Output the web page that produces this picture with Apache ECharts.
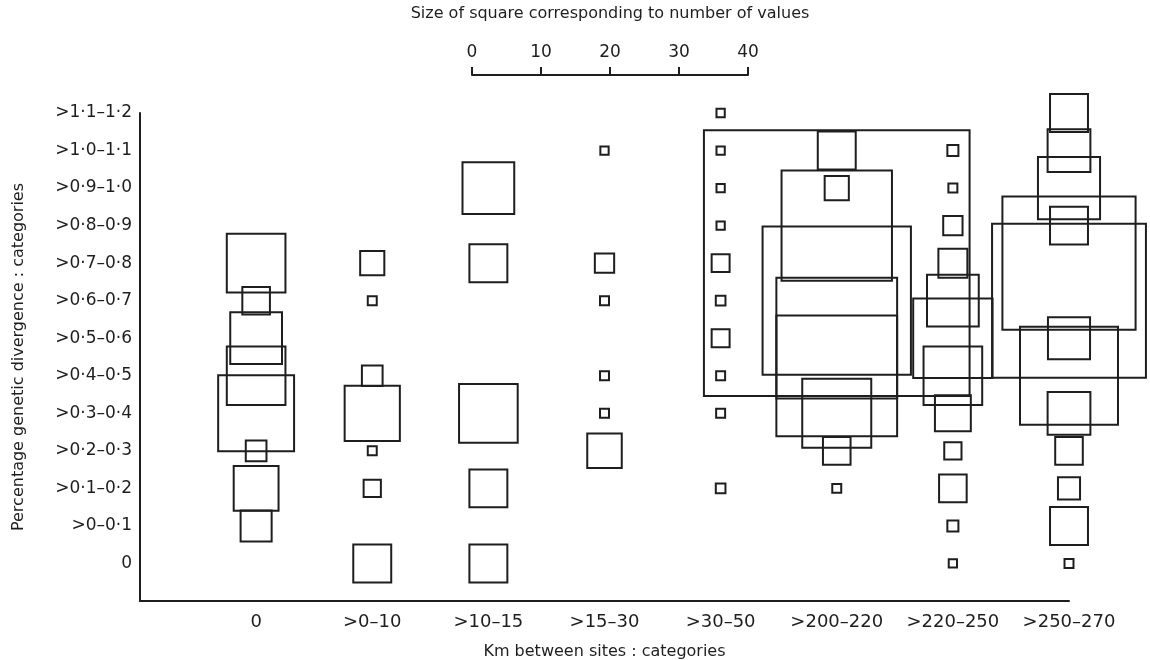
<!DOCTYPE html>
<html>
<head>
<meta charset="utf-8">
<script src="https://cdn.jsdelivr.net/npm/echarts@6/dist/echarts.min.js"></script>
<style>
html, body { margin: 0; padding: 0; background: #fff; }
#chart { width: 1150px; height: 660px; }
</style>
</head>
<body>
<div id="chart"></div>
<script>
// distance classes (x) and divergence classes (y, bottom to top)
var distCats = ['0', '>0–10', '>10–15', '>15–30', '>30–50', '>200–220', '>220–250', '>250–270'];
var divCats = ['0', '>0–0·1', '>0·1–0·2', '>0·2–0·3', '>0·3–0·4', '>0·4–0·5', '>0·5–0·6',
               '>0·6–0·7', '>0·7–0·8', '>0·8–0·9', '>0·9–1·0', '>1·0–1·1', '>1·1–1·2'];
var scaleMax = 40;

// number of values in each divergence class, one array per distance class
var km0      = [0, 4.5, 6.5, 3, 11, 8.5, 7.5, 4, 8.5, 0, 0, 0, 0];
var km0_10   = [5.5, 0, 2.5, 1.3, 8, 3, 0, 1.3, 3.5, 0, 0, 0, 0];
var km10_15  = [5.5, 0, 5.5, 0, 8.5, 0, 0, 0, 5.5, 0, 7.5, 0, 0];
var km15_30  = [0, 0, 0, 5, 1.3, 1.3, 0, 1.3, 2.8, 0, 0, 1.2, 0];
var km30_50  = [0, 0, 1.4, 0, 1.3, 1.3, 2.6, 1.4, 2.6, 1.2, 1.2, 1.2, 1.2];
var km200_220 = [0, 0, 1.3, 4, 10, 17.5, 17.5, 21.5, 38.5, 16, 3.5, 5.5, 0];
var km220_250 = [1.2, 1.6, 4, 2.5, 5.2, 8.5, 11.5, 7.5, 4.2, 2.8, 1.3, 1.6, 0];
var km250_270 = [1.3, 5.5, 3.2, 4, 6.2, 14.2, 6.1, 22.3, 19.3, 5.5, 9, 6.2, 5.5];
var counts = [km0, km0_10, km10_15, km15_30, km30_50, km200_220, km220_250, km250_270];

var ink = '#1e1e1e';
var font = 'DejaVu Sans';
var scaleWidth = 276;               // px length of the 0-40 key
var unit = scaleWidth / scaleMax;   // px of square side per value

var points = [];
counts.forEach(function (col, c) {
    col.forEach(function (v, r) {
        if (v > 0) points.push([distCats[c], divCats[r], v]);
    });
});

var myChart = echarts.init(document.getElementById('chart'));
var option = {
    backgroundColor: '#fff',
    animation: false,
    textStyle: { fontFamily: font, color: ink },
    grid: [
        { left: 140, right: 81, top: 113, bottom: 59, outerBoundsMode: 'none' },
        { left: 472, width: scaleWidth, top: 74, height: 1, outerBoundsMode: 'none' }
    ],
    xAxis: [
        {
            gridIndex: 0,
            type: 'category',
            data: [''].concat(distCats),
            boundaryGap: false,
            name: 'Km between sites : categories',
            nameLocation: 'middle',
            nameGap: 43,
            nameTextStyle: { fontSize: 16, color: ink },
            axisLine: { lineStyle: { color: ink, width: 2 } },
            axisTick: {
                inside: true, length: 9,
                interval: function (i) { return i > 0; },
                lineStyle: { color: ink, width: 2 }
            },
            axisLabel: { interval: 0, margin: 12, fontSize: 18, color: ink },
            splitLine: { show: false }
        },
        {
            gridIndex: 1,
            type: 'value',
            position: 'top',
            min: 0,
            max: scaleMax,
            interval: 10,
            name: 'Size of square corresponding to number of values',
            nameLocation: 'middle',
            nameGap: 52,
            nameTextStyle: { fontSize: 16, color: ink },
            axisLine: { lineStyle: { color: ink, width: 2 } },
            axisTick: { length: 8, lineStyle: { color: ink, width: 2 } },
            axisLabel: { margin: 13, fontSize: 17, color: ink },
            splitLine: { show: false }
        }
    ],
    yAxis: [
        {
            gridIndex: 0,
            type: 'category',
            data: [''].concat(divCats),
            boundaryGap: false,
            name: 'Percentage genetic divergence : categories',
            nameLocation: 'middle',
            nameRotate: 90,
            nameGap: 113,
            nameTextStyle: { fontSize: 16, color: ink },
            axisLine: { lineStyle: { color: ink, width: 2 } },
            axisTick: {
                inside: true, length: 10,
                interval: function (i) { return i > 0; },
                lineStyle: { color: ink, width: 2 }
            },
            axisLabel: { interval: 0, margin: 8, fontSize: 17, color: ink },
            splitLine: { show: false }
        },
        { gridIndex: 1, type: 'value', show: false }
    ],
    series: [
        {
            type: 'scatter',
            xAxisIndex: 0,
            yAxisIndex: 0,
            symbol: 'rect',
            symbolSize: function (val) { return val[2] * unit; },
            itemStyle: { color: 'rgba(0,0,0,0)', borderColor: ink, borderWidth: 2, opacity: 1 },
            emphasis: { disabled: true },
            data: points
        }
    ]
};
myChart.setOption(option);
window.addEventListener('resize', function () { myChart.resize(); });
</script>
</body>
</html>
